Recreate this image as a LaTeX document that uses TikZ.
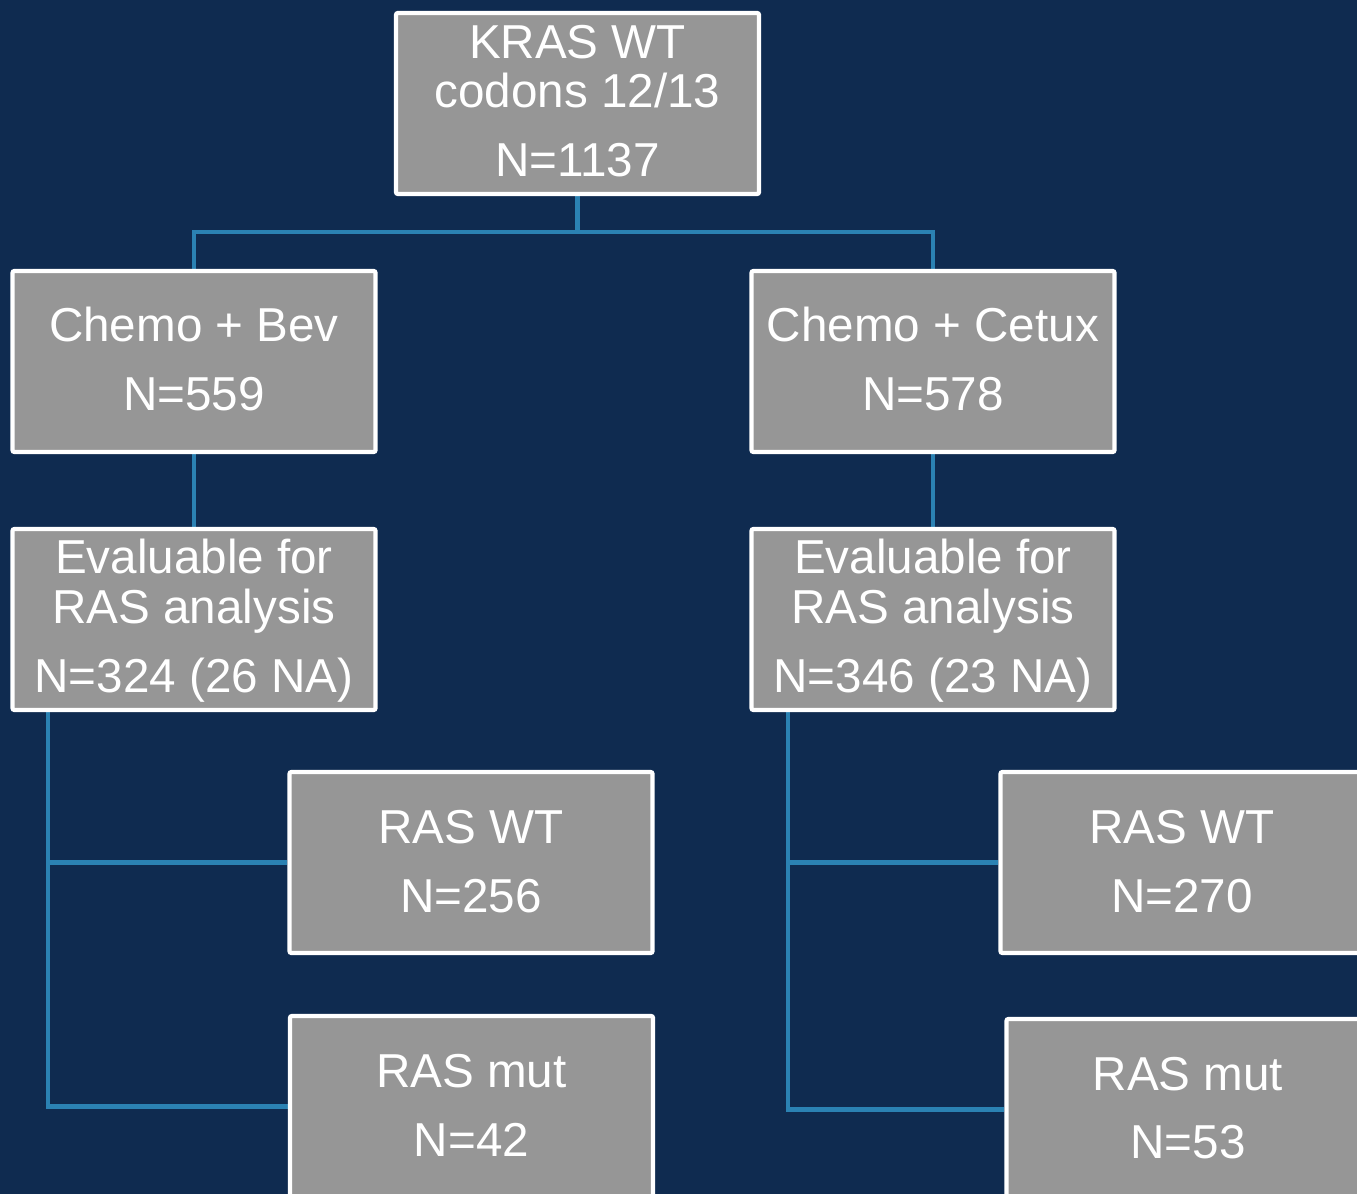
\documentclass[tikz,border=0pt]{standalone}
\usepackage{fontspec}
\setmainfont{Liberation Sans}
\pgfdeclarelayer{background}
\pgfsetlayers{background,main}
\definecolor{bgnavy}{HTML}{0F2B50}
\definecolor{boxgray}{HTML}{969696}
\definecolor{linkblue}{HTML}{2B82B3}
\tikzset{
  box/.style={draw=white, fill=boxgray, line width=3.2pt, rounded corners=1.5pt,
    minimum width=272.25pt, minimum height=135.75pt, inner sep=0pt},
  txt/.style={text=white, anchor=base, inner sep=0pt,
    font=\fontsize{35.7}{36.75}\selectfont},
  link/.style={draw=linkblue, line width=3.2pt}
}
\begin{document}
\begin{tikzpicture}[x=0.75pt, y=-0.75pt]
\useasboundingbox (0,0) rectangle (1357,1194);
\clip (0,0) rectangle (1357,1194);

% boxes
\node[box] (b1) at (577.5,103.5) {};
\node[box] (b2) at (194,361.5) {};
\node[box] (b3) at (933,361.5) {};
\node[box] (b4) at (194,619.5) {};
\node[box] (b5) at (933,619.5) {};
\node[box] (b6) at (471,862.5) {};
\node[box] (b7) at (471.5,1106.5) {};
\node[box] (b8) at (1182,862.5) {};
\node[box] (b9) at (1188,1109.5) {};

% texts
\node[txt] (t1a) at (577.5,59) {KRAS WT};
\node[txt] (t1b) at (577.5,108) {codons 12/13};
\node[txt] (t1c) at (577.5,177) {N=1137};
\node[txt] (t2a) at (194,342) {Chemo + Bev};
\node[txt] (t2b) at (194,411) {N=559};
\node[txt] (t3a) at (933,342) {Chemo + Cetux};
\node[txt] (t3b) at (933,411) {N=578};
\node[txt] (t4a) at (194,573) {Evaluable for};
\node[txt] (t4b) at (194,623) {RAS analysis};
\node[txt] (t4c) at (194,692) {N=324 (26 NA)};
\node[txt] (t5a) at (933,573) {Evaluable for};
\node[txt] (t5b) at (933,623) {RAS analysis};
\node[txt] (t5c) at (933,692) {N=346 (23 NA)};
\node[txt] (t6a) at (471,843) {RAS WT};
\node[txt] (t6b) at (471,912) {N=256};
\node[txt] (t7a) at (471.5,1087) {RAS mut};
\node[txt] (t7b) at (471.5,1156) {N=42};
\node[txt] (t8a) at (1182,843) {RAS WT};
\node[txt] (t8b) at (1182,912) {N=270};
\node[txt] (t9a) at (1188,1090) {RAS mut};
\node[txt] (t9b) at (1188,1158) {N=53};

% connectors
\coordinate (split) at (577.5,232);
\coordinate (lstem) at (48,711);
\coordinate (rstem) at (788,711);
\begin{pgfonlayer}{background}
\fill[bgnavy] (0,0) rectangle (1357,1194);
\draw[link] (b1.south) -- (split);
\draw[link] (split) -| (b2.north);
\draw[link] (split) -| (b3.north);
\draw[link] (b2.south) -- (b4.north);
\draw[link] (b3.south) -- (b5.north);
\draw[link] (lstem) |- (b6.west);
\draw[link] (lstem) |- (b7.west);
\draw[link] (rstem) |- (b8.west);
\draw[link] (rstem) |- (b9.west);
\end{pgfonlayer}
\end{tikzpicture}
\end{document}
